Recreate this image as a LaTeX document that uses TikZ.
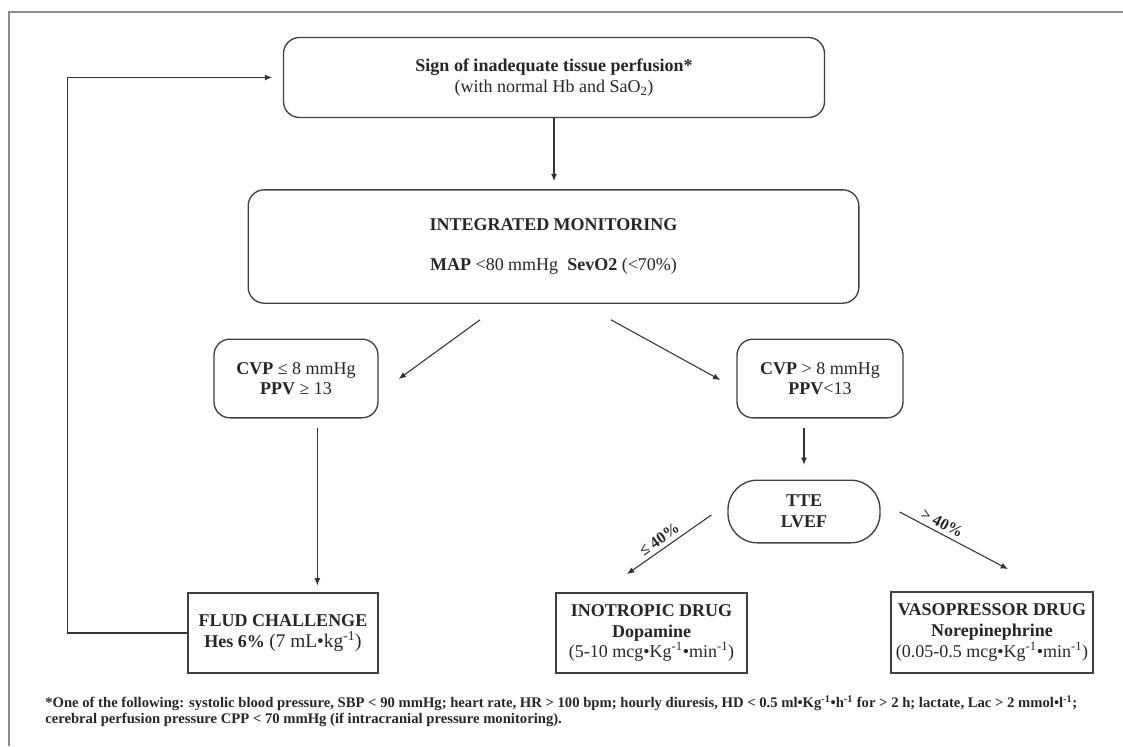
\documentclass[tikz,border=0pt]{standalone}
\usepackage{fontspec}
\setmainfont{Liberation Serif}
\usetikzlibrary{arrows.meta}

\begin{document}
\begin{tikzpicture}[x=0.75pt,y=-0.75pt,
    every node/.style={font=\fontsize{13.5}{15.5}\selectfont, align=center, text=black!85},
    rbox/.style={draw=black!75, line width=1pt, rounded corners=12pt, inner sep=0pt},
    sbox/.style={draw=black!75, line width=1.3pt, inner sep=0pt},
    arr/.style={draw=black!80, line width=0.8pt, -{Latex[length=5.5pt,width=4.5pt]}},
    lbl/.style={font=\fontsize{12}{14}\selectfont\bfseries, sloped, above, inner sep=3pt}]
  \useasboundingbox (0,0) rectangle (1123,746);
  \draw[black!45, line width=1.5pt] (9,746) -- (9,12) -- (1123,12);

  % boxes
  \node[rbox, minimum width=405.75pt, minimum height=60pt] (sign) at (554,77.5)
    {\textbf{Sign of inadequate tissue perfusion*}\\(with normal Hb and SaO\textsubscript{2})};
  \node[rbox, minimum width=458pt, minimum height=85pt] (monit) at (553.5,246.5)
    {\textbf{INTEGRATED MONITORING}\\[14pt]\textbf{MAP} <80 mmHg\ \ \textbf{SevO2} (<70\%)};
  \node[rbox, minimum width=123pt, minimum height=59pt] (cvplow) at (296,378.5)
    {\textbf{CVP} ≤ 8 mmHg\\\textbf{PPV} ≥ 13};
  \node[rbox, minimum width=124.5pt, minimum height=59pt] (cvphigh) at (820,378.5)
    {\textbf{CVP} > 8 mmHg\\\textbf{PPV}<13};
  \node[rbox, rounded corners=22pt, minimum width=114pt, minimum height=47pt] (tte) at (804,511.5)
    {\textbf{TTE}\\\textbf{LVEF}};
  \node[sbox, minimum width=142.5pt, minimum height=60pt] (fluid) at (283,633)
    {\textbf{FLUD CHALLENGE}\\\textbf{Hes 6\%} {\fontsize{14.5}{16}\selectfont(7 mL•kg\textsuperscript{-1})}};
  \node[sbox, minimum width=143pt, minimum height=60pt] (inotrop) at (651.5,633)
    {\textbf{INOTROPIC DRUG}\\\textbf{Dopamine}\\(5-10 mcg•Kg\textsuperscript{-1}•min\textsuperscript{-1})};
  \node[sbox, minimum width=151.5pt, minimum height=60.75pt] (vasop) at (992,632.5)
    {\textbf{VASOPRESSOR DRUG}\\\textbf{Norepinephrine}\\(0.05-0.5 mcg•Kg\textsuperscript{-1}•min\textsuperscript{-1})};

  % footnote
  \node[anchor=north west, align=left, inner sep=0pt, font=\fontsize{11}{12}\selectfont\bfseries] (note) at (45,695)
    {*One of the following: systolic blood pressure, SBP < 90 mmHg; heart rate, HR > 100 bpm; hourly diuresis, HD < 0.5 ml•Kg\textsuperscript{-1}•h\textsuperscript{-1} for > 2 h; lactate, Lac > 2 mmol•l\textsuperscript{-1};\\
     cerebral perfusion pressure CPP < 70 mmHg (if intracranial pressure monitoring).};

  % connectors
  \draw[arr, shorten >=6pt] (sign.south) -- (sign.south |- monit.north);
  \draw[arr] ([shift={(-73.5,16)}]monit.south) -- ([shift={(20,0.5)}]cvplow.east);
  \draw[arr] ([shift={(57.5,16)}]monit.south) -- ([shift={(-16,1.5)}]cvphigh.west);
  \draw[arr, shorten <=7pt, shorten >=5pt] ([xshift=16pt]cvplow.south) -- ([xshift=16pt]cvplow.south |- fluid.north);
  \draw[arr, shorten <=7pt, shorten >=11pt] (cvphigh.south -| tte.north) -- (tte.north);
  \draw[arr] ([shift={(-16,3.5)}]tte.west) -- node[lbl, pos=0.55] {≤ 40\%} ([shift={(-24.5,-18)}]inotrop.north);
  \draw[arr] ([shift={(19,0.5)}]tte.east) -- node[lbl, pos=0.35] {> 40\%} ([shift={(16,-22)}]vasop.north);
  \draw[arr, shorten >=8pt] (fluid.west) -- ++(-120,0) |- (sign.west);
\end{tikzpicture}
\end{document}
